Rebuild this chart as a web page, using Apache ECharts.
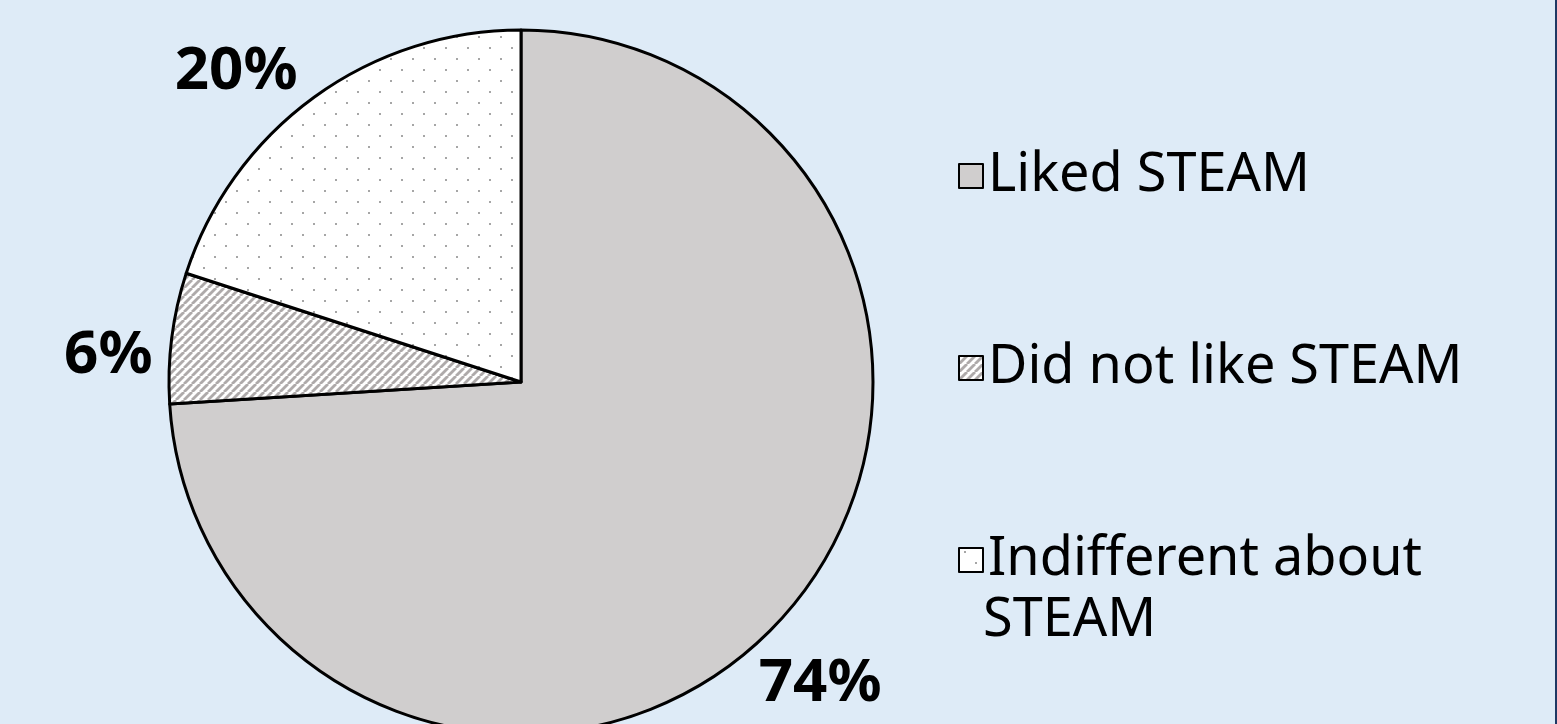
<!DOCTYPE html>
<html>
<head>
<meta charset="utf-8">
<script src="https://cdn.jsdelivr.net/npm/echarts@6/dist/echarts.min.js"></script>
<style>
  html, body { margin: 0; padding: 0; }
  #wrap { width: 1557px; height: 724px; background: #deebf7; box-sizing: border-box; border-right: 2px solid #1f3864; }
  #chart { width: 1555px; height: 724px; }
</style>
</head>
<body>
<div id="wrap"><div id="chart"></div></div>
<script>
// ---- data ----
const categories = ['Liked STEAM', 'Did not like STEAM', 'Indifferent about STEAM'];
const values = [74, 6, 20];
const legendLines = ['Liked STEAM', 'Did not like STEAM', 'Indifferent about'];
const legendSecondLine = 'STEAM';

// ---- fill textures ----
function hatchPattern() {
  const c = document.createElement('canvas');
  c.width = 8; c.height = 8;
  const g = c.getContext('2d');
  g.fillStyle = '#ffffff'; g.fillRect(0, 0, 8, 8);
  g.strokeStyle = '#aeaaaa'; g.lineWidth = 2.8;
  for (const o of [-8, 0, 8]) {
    g.beginPath(); g.moveTo(o, 8); g.lineTo(o + 8, 0); g.stroke();
  }
  return c;
}
function dotPattern() {
  const c = document.createElement('canvas');
  c.width = 22; c.height = 22;
  const g = c.getContext('2d');
  g.fillStyle = '#ffffff'; g.fillRect(0, 0, 22, 22);
  g.fillStyle = '#a6a6a6';
  g.fillRect(5, 3, 2, 2);
  g.fillRect(16, 14, 2, 2);
  return c;
}
const fills = [
  '#d0cece',
  { image: hatchPattern(), repeat: 'repeat' },
  { image: dotPattern(), repeat: 'repeat' }
];

const CX = 521, CY = 382, R = 352;
const LABEL_DIST = 420;
const labelNudge = [[-7, 14], [4, 27], [-38, 30]]; // style tweak to match reference label placement
const total = values.reduce((a, b) => a + b, 0);
function midAngle(i) {
  let before = 0;
  for (let k = 0; k < i; k++) before += values[k];
  return ((before + values[i] / 2) / total) * 2 * Math.PI; // clockwise from top
}

const chart = echarts.init(document.getElementById('chart'), null, { renderer: 'canvas' });
const FONT = 'Noto Sans';
chart.setOption({
  animation: false,
  backgroundColor: 'transparent',
  legend: {
    orient: 'vertical',
    left: 953,
    top: 140,
    itemWidth: 24,
    itemHeight: 24,
    itemGap: 130,
    icon: 'rect',
    selectedMode: false,
    itemStyle: { borderColor: '#000', borderWidth: 2 },
    textStyle: { fontFamily: FONT, fontSize: 54, color: '#000', lineHeight: 62, padding: [0, 0, 0, 0] },
    formatter: function (name) { return legendLines[categories.indexOf(name)]; },
    data: categories
  },
  graphic: [{
    type: 'text',
    left: 983,
    top: 594,
    style: { text: legendSecondLine, font: '54px ' + FONT, fill: '#000' },
    silent: true
  }],
  series: [{
    type: 'pie',
    center: [CX, CY],
    radius: R,
    startAngle: 90,
    clockwise: true,
    avoidLabelOverlap: false,
    emphasis: { disabled: true },
    itemStyle: { borderColor: '#000', borderWidth: 3 },
    label: {
      show: true,
      position: 'outside',
      formatter: '{c}%',
      fontFamily: FONT,
      fontWeight: 'bold',
      fontSize: 60,
      color: '#000'
    },
    labelLine: { show: false },
    labelLayout: function (p) {
      const a = midAngle(p.dataIndex);
      const n = labelNudge[p.dataIndex];
      return {
        x: CX + LABEL_DIST * Math.sin(a) + n[0],
        y: CY - LABEL_DIST * Math.cos(a) + n[1],
        align: 'center',
        verticalAlign: 'middle'
      };
    },
    data: categories.map((n, i) => ({ name: n, value: values[i], itemStyle: { color: fills[i] } }))
  }]
});
</script>
</body>
</html>
